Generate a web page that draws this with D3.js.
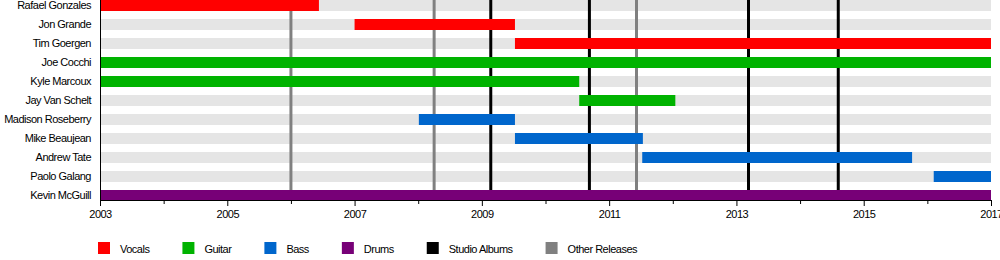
<!DOCTYPE html>
<html>
<head>
<meta charset="utf-8">
<script src="https://cdn.jsdelivr.net/npm/d3@7"></script>
<style>
  body { margin: 0; background: #fff; }
  text { font-family: 'Liberation Sans', Arial, sans-serif; font-size: 11px; letter-spacing: -0.5px; fill: #000; }
</style>
</head>
<body>
<div id="chart"></div>
<script>
// band members, one row each
var members = ['Rafael Gonzales', 'Jon Grande', 'Tim Goergen', 'Joe Cocchi', 'Kyle Marcoux',
    'Jay Van Schelt', 'Madison Roseberry', 'Mike Beaujean', 'Andrew Tate', 'Paolo Galang', 'Kevin McGuill'];
// stints: member, role, start, end (decimal years)
var stintMember = ['Rafael Gonzales', 'Jon Grande', 'Tim Goergen', 'Joe Cocchi', 'Kyle Marcoux',
    'Jay Van Schelt', 'Madison Roseberry', 'Mike Beaujean', 'Andrew Tate', 'Paolo Galang', 'Kevin McGuill'];
var stintRole = ['Vocals', 'Vocals', 'Vocals', 'Guitar', 'Guitar',
    'Guitar', 'Bass', 'Bass', 'Bass', 'Bass', 'Drums'];
var stintStart = [2003, 2007.0, 2009.52, 2003, 2003, 2010.53, 2008.01, 2009.52, 2011.52, 2016.1, 2003];
var stintEnd = [2006.44, 2009.52, 2017, 2017, 2010.53, 2012.04, 2009.52, 2011.53, 2015.76, 2017, 2017];
// release markers
var studioAlbums = [2009.14, 2010.69, 2013.19, 2014.6];
var otherReleases = [2006.0, 2008.25, 2011.43];
// legend
var legendLabels = ['Vocals', 'Guitar', 'Bass', 'Drums', 'Studio Albums', 'Other Releases'];
var legendColors = ['#ff0000', '#00b300', '#0066cc', '#770077', '#000000', '#808080'];
var majorTicks = [2003, 2005, 2007, 2009, 2011, 2013, 2015, 2017];
var minorTicks = [2004, 2006, 2008, 2010, 2012, 2014, 2016];

var roleColor = d3.scaleOrdinal().domain(legendLabels).range(legendColors);

var W = 1000, H = 260;
var margin = {top: 0, left: 100, right: 9};
var plotH = 200;

var svg = d3.select('#chart').append('svg')
    .attr('width', W)
    .attr('height', H);

var x = d3.scaleLinear()
    .domain([2003, 2017])
    .range([margin.left, W - margin.right]);
var y = d3.scaleBand()
    .domain(members)
    .range([0, 19 * members.length]);
var barH = 11;

// background stripes
svg.append('g').selectAll('rect')
    .data(members)
    .enter().append('rect')
    .attr('x', x(2003))
    .attr('y', function(d) { return y(d); })
    .attr('width', x(2017) - x(2003))
    .attr('height', barH)
    .style('fill', '#e5e5e5');

// release lines
function releaseLines(data, color) {
    svg.append('g').selectAll('line')
        .data(data)
        .enter().append('line')
        .attr('x1', function(d) { return x(d); })
        .attr('x2', function(d) { return x(d); })
        .attr('y1', 0)
        .attr('y2', plotH)
        .style('stroke', color)
        .style('stroke-width', 3);
}
releaseLines(otherReleases, '#808080');
releaseLines(studioAlbums, '#000000');

// member bars
svg.append('g').selectAll('rect')
    .data(d3.range(stintMember.length))
    .enter().append('rect')
    .attr('x', function(i) { return x(stintStart[i]); })
    .attr('y', function(i) { return y(stintMember[i]); })
    .attr('width', function(i) { return x(stintEnd[i]) - x(stintStart[i]); })
    .attr('height', barH)
    .style('fill', function(i) { return roleColor(stintRole[i]); });

// names
svg.append('g').selectAll('text')
    .data(members)
    .enter().append('text')
    .attr('x', margin.left - 9)
    .attr('y', function(d) { return y(d) + barH / 2; })
    .attr('dy', '0.35em')
    .attr('text-anchor', 'end')
    .text(function(d) { return d; });

// axes
var xAxis = d3.axisBottom(x)
    .tickValues(majorTicks)
    .tickSize(6)
    .tickPadding(4)
    .tickFormat(d3.format('d'));
var gx = svg.append('g')
    .attr('transform', 'translate(0,' + plotH + ')')
    .call(xAxis);
gx.select('.domain').attr('d', 'M' + x(2003) + ',0.5H' + x(2017)).style('stroke', '#000');
gx.selectAll('text').style('font-family', "'Liberation Sans', Arial, sans-serif").style('font-size', '11px');

var gxm = svg.append('g')
    .attr('transform', 'translate(0,' + plotH + ')')
    .call(d3.axisBottom(x).tickValues(minorTicks).tickSize(4).tickFormat(''));
gxm.select('.domain').remove();

svg.append('line')
    .attr('x1', x(2003) + 0.5).attr('x2', x(2003) + 0.5)
    .attr('y1', 0).attr('y2', plotH)
    .style('stroke', '#000');

// legend
var legend = svg.append('g');
var lx = 98;
legendLabels.forEach(function(label, i) {
    legend.append('rect')
        .attr('x', lx).attr('y', 242)
        .attr('width', 12).attr('height', 12)
        .style('fill', legendColors[i]);
    var t = legend.append('text')
        .attr('x', lx + 22).attr('y', 249)
        .attr('dy', '0.35em')
        .text(label);
    lx += 22 + t.node().getComputedTextLength() + 33;
});
</script>
</body>
</html>
